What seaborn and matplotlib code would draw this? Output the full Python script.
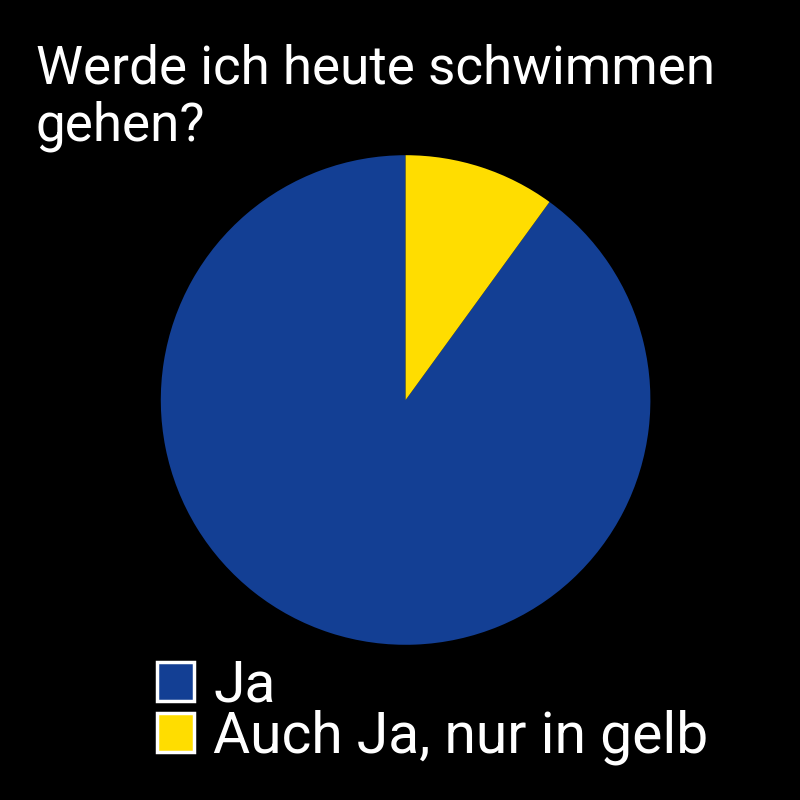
import matplotlib
matplotlib.use("Agg")
import matplotlib.pyplot as plt
import seaborn as sns
from matplotlib.patches import Patch

# data
labels = ["Ja", "Auch Ja, nur in gelb"]
values = [90, 10]
colors = ["#133F94", "#FFDD00"]
title = "Werde ich heute schwimmen\ngehen?"

sns.set_theme(style="dark", rc={"figure.facecolor": "black", "axes.facecolor": "black"})
plt.rcParams["font.family"] = ["Roboto", "DejaVu Sans"]

fig = plt.figure(figsize=(8, 8), dpi=100)
ax = fig.add_axes([0.507 - 0.306, 0.5 - 0.306, 0.612, 0.612])
ax.pie(values, colors=colors, startangle=90, counterclock=True,
       wedgeprops=dict(linewidth=0))
ax.set_xlim(-1, 1)
ax.set_ylim(-1, 1)
ax.set_aspect("equal")
ax.axis("off")

fig.text(0.045, 0.945, title, color="white", fontsize=38.2, ha="left", va="top",
         linespacing=1.15)

handles = [Patch(facecolor=c, edgecolor="white", linewidth=2.5) for c in colors]
leg = fig.legend(handles, labels, loc="upper left", bbox_to_anchor=(0.196, 0.177),
                 frameon=False, fontsize=41, labelcolor="white",
                 handlelength=0.66, handleheight=0.66, handletextpad=0.33,
                 labelspacing=-0.07, borderpad=0, borderaxespad=0)

fig.savefig("out.png", dpi=100, facecolor="black")
